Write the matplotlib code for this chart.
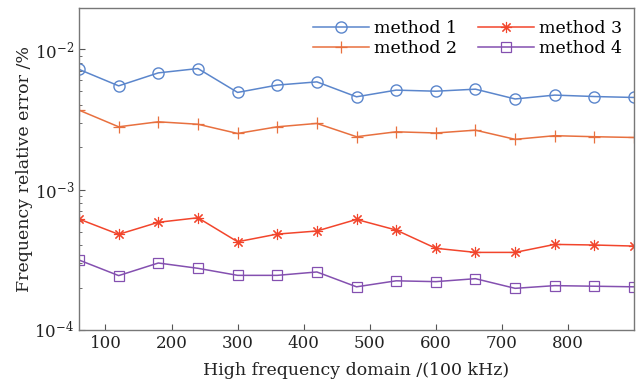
import numpy as np
import matplotlib
matplotlib.use("Agg")
import matplotlib.pyplot as plt
from matplotlib.ticker import LogLocator, NullFormatter

plt.rcParams['font.family'] = ['DejaVu Serif']
plt.rcParams['mathtext.fontset'] = 'dejavuserif'

freq = [60, 120, 180, 240, 300, 360, 420, 480, 540, 600, 660, 720, 780, 840, 900]

method1 = [0.00718, 0.00548, 0.00678, 0.00728, 0.00492, 0.00555, 0.00585, 0.00458,
           0.00511, 0.00502, 0.00519, 0.00442, 0.00471, 0.00460, 0.00453]
method2 = [0.00368, 0.00280, 0.00304, 0.00292, 0.00251, 0.00280, 0.00296, 0.00238,
           0.00258, 0.00253, 0.00265, 0.00228, 0.00242, 0.00238, 0.00235]
method3 = [0.000617, 0.000480, 0.000585, 0.000630, 0.000425, 0.000482, 0.000507, 0.000613,
           0.000515, 0.000382, 0.000357, 0.000357, 0.000407, 0.000403, 0.000396]
method4 = [0.000315, 0.000244, 0.000300, 0.000275, 0.000245, 0.000245, 0.000259, 0.000203,
           0.000224, 0.000221, 0.000232, 0.000198, 0.000207, 0.000205, 0.000203]

labels = ['method 1', 'method 2', 'method 3', 'method 4']
colors = ['#5B86CC', '#E8703F', '#F2452C', '#8450B0']

fig = plt.figure(figsize=(6.44, 3.88), dpi=100)
ax = fig.add_axes([0.1227, 0.1495, 0.8618, 0.8295])

ax.plot(freq, method1, color=colors[0], lw=1.1, marker='o', ms=8,
        mfc='none', mec=colors[0], mew=1.0, label=labels[0])
ax.plot(freq, method2, color=colors[1], lw=1.1, marker='+', ms=9,
        mew=0.9, label=labels[1])
ax.plot(freq, method3, color=colors[2], lw=1.1, marker=(8, 2, 0), ms=8,
        mew=0.8, label=labels[2])
ax.plot(freq, method4, color=colors[3], lw=1.1, marker='s', ms=6.5,
        mfc='none', mec=colors[3], mew=0.9, label=labels[3])

ax.set_yscale('log')
ax.set_xlim(60, 900)
ax.set_ylim(1e-4, 0.0196)
ax.set_xticks([100, 200, 300, 400, 500, 600, 700, 800])
ax.yaxis.set_major_locator(LogLocator(base=10, numticks=10))
ax.yaxis.set_minor_locator(LogLocator(base=10, subs=np.arange(2, 10), numticks=10))
ax.yaxis.set_minor_formatter(NullFormatter())

ax.tick_params(which='both', direction='in', labelsize=12, colors='#555555',
               labelcolor='#222222')
ax.tick_params(which='major', length=4)
ax.tick_params(which='minor', length=2.5)
for sp in ax.spines.values():
    sp.set_color('#777777')
    sp.set_linewidth(1.0)

ax.set_xlabel('High frequency domain /(100 kHz)', fontsize=12.5, labelpad=7, color='#222222')
ax.set_ylabel('Frequency relative error /%', fontsize=12.5, labelpad=1, color='#222222')

ax.legend(ncol=2, frameon=False, fontsize=12.5, loc='upper right',
          handlelength=3.2, columnspacing=1.2, labelspacing=0.15,
          borderaxespad=0.3, handletextpad=0.3)

fig.savefig('out.png', dpi=100)
